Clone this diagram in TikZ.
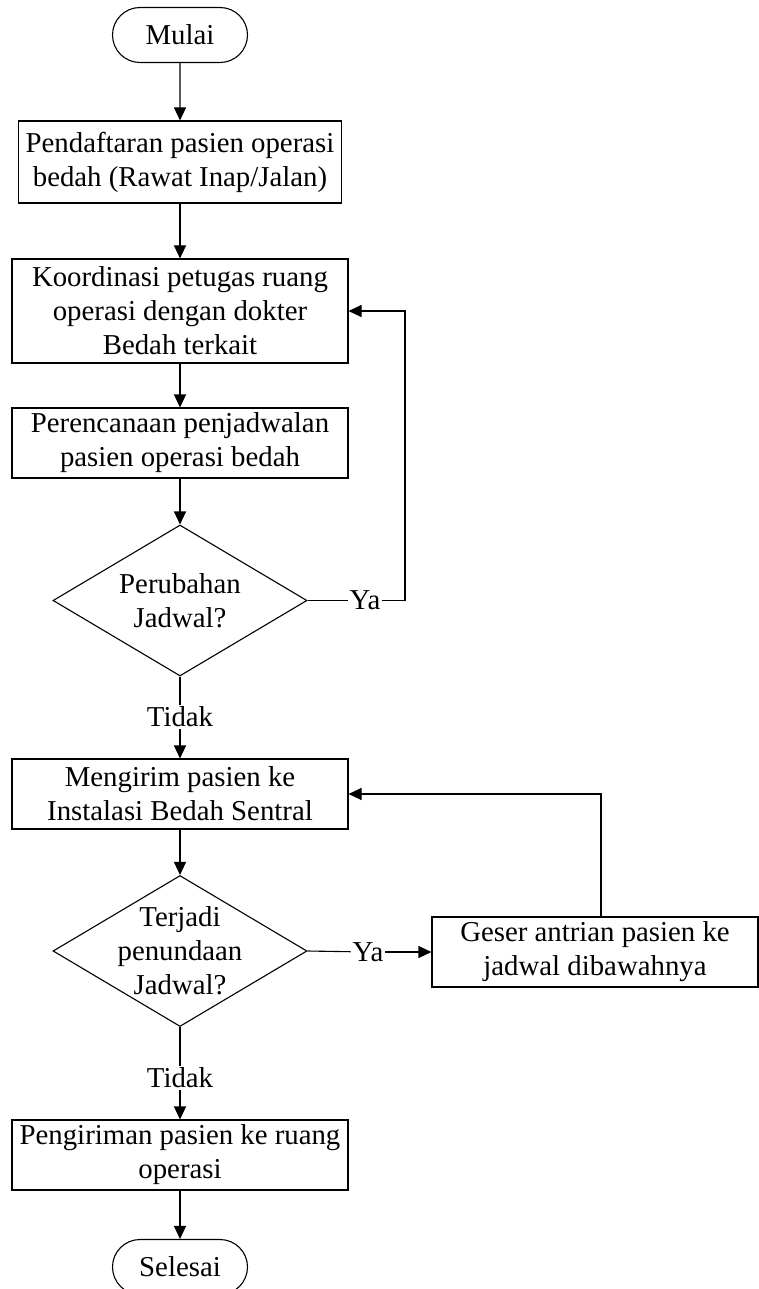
\documentclass[tikz,border=0pt]{standalone}
\usepackage{fontspec}
\setmainfont{Liberation Serif}
\usetikzlibrary{shapes.geometric,shapes.misc,arrows.meta,calc}
\begin{document}
\begin{tikzpicture}[x=1pt,y=-1pt,
  every node/.style={font=\fontsize{28.8}{34}\selectfont},
  line width=1.1pt,
  arr/.style={-{Triangle[length=13pt,width=12pt]}},
  term/.style={draw,rounded rectangle,minimum width=135pt,minimum height=55pt,inner sep=0pt},
  proc/.style={draw,rectangle,minimum width=336pt,align=center,inner sep=0pt},
  diam/.style={draw,diamond,minimum width=254pt,minimum height=151pt,inner sep=0pt,shape aspect=1.68},
  lab/.style={inner sep=1.5pt,fill=white}]
\useasboundingbox (0,0) rectangle (759,1289);
\node[term] (start) at (180,35) {Mulai};
\node[proc,minimum width=323pt,minimum height=82pt] (b1) at (180,162) {Pendaftaran pasien operasi\\bedah (Rawat Inap/Jalan)};
\node[proc,minimum height=104pt] (b2) at (180,311) {Koordinasi petugas ruang\\operasi dengan dokter\\Bedah terkait};
\node[proc,minimum height=70pt] (b3) at (180,443) {Perencanaan penjadwalan\\pasien operasi bedah};
\node[diam] (d1) at (180,600.5) {};
\node[align=center] (d1t) at (d1.center) {Perubahan\\Jadwal?};
\node[lab] (t1) at (180,717) {Tidak};
\node[proc,minimum height=70pt] (b4) at (180,794) {Mengirim pasien ke\\Instalasi Bedah Sentral};
\node[diam] (d2) at (180,951) {};
\node[align=center] (d2t) at (d2.center) {Terjadi\\penundaan\\Jadwal?};
\node[lab] (ya2) at (368,952) {Ya};
\node[proc,minimum width=326pt,minimum height=70pt] (b5) at (595,952) {Geser antrian pasien ke\\jadwal dibawahnya};
\node[lab] (t2) at (180,1078) {Tidak};
\node[proc,minimum height=70pt] (b6) at (180,1155) {Pengiriman pasien ke ruang\\operasi};
\node[term] (end) at (180,1267) {Selesai};
\node[lab] (ya1) at (365,600.5) {Ya};
\coordinate (r1) at (405,600.5);
\coordinate (r2) at (601,917);
\coordinate (r2t) at (601,794);

\draw[arr] (start) -- (b1);
\draw[arr] (b1) -- (b2);
\draw[arr] (b2) -- (b3);
\draw[arr] (b3) -- (d1.north);
\draw (d1.east) -- (ya1);
\draw[arr] (ya1) -- (r1) |- (b2.east);
\draw (d1.south) -- (t1);
\draw[arr] (t1) -- (b4);
\draw[arr] (b4) -- (d2.north);
\draw (d2.east) -- (ya2);
\draw[arr] (ya2) -- (b5.west);
\draw[arr] (r2) -- (r2t) -- (b4.east);
\draw (d2.south) -- (t2);
\draw[arr] (t2) -- (b6);
\draw[arr] (b6) -- (end);
\end{tikzpicture}
\end{document}
